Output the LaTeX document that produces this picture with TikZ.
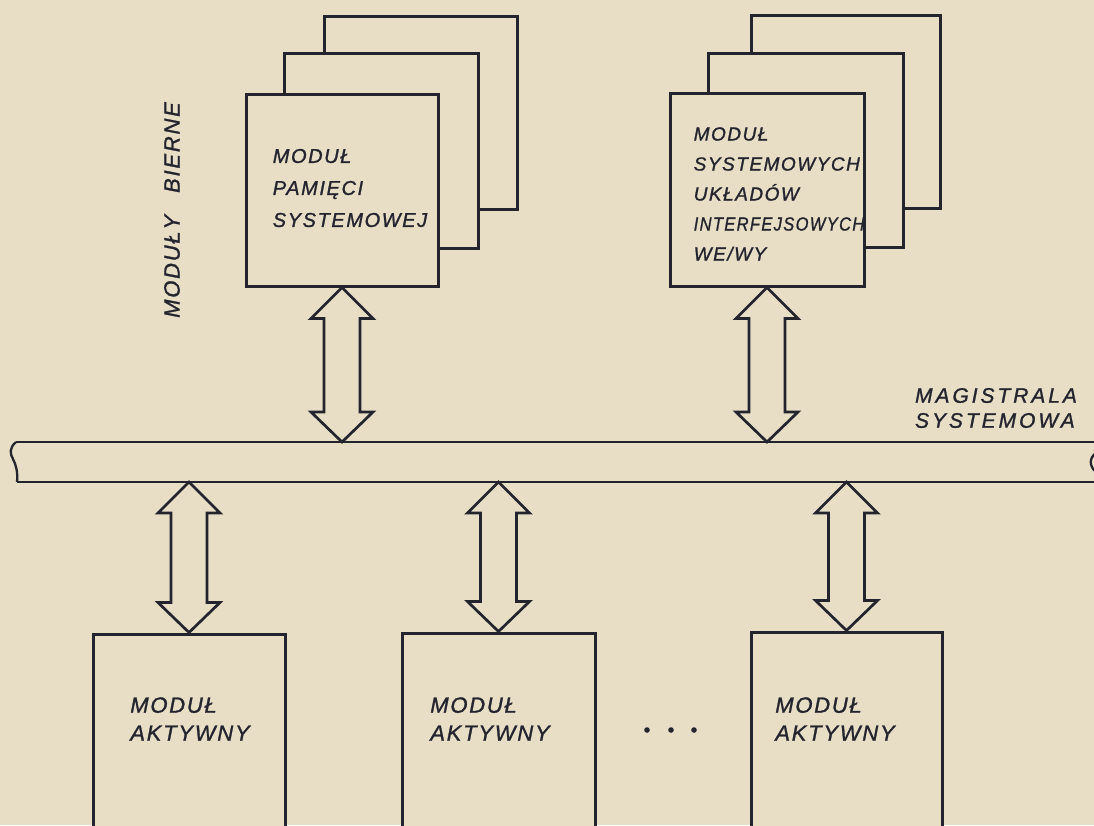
\documentclass[tikz,border=0pt]{standalone}
\usepackage{fontspec}
\setmainfont{Liberation Sans}
\newfontfamily\hand{Liberation Sans}[LetterSpace=8, FakeBold=1.2]
\newfontfamily\handwide{Liberation Sans}[LetterSpace=14, FakeBold=1.2]
\usetikzlibrary{calc}
\definecolor{paper}{RGB}{232,222,198}
\definecolor{ink}{RGB}{36,36,46}
\tikzset{
  modbox/.style={draw=ink, line width=3pt, fill=paper, rectangle, inner sep=0pt},
  lbl/.style={align=left, inner sep=0pt, text=ink, font=\hand\itshape\fontsize{#1}{#1}\selectfont},
  busline/.style={draw=ink, line width=2.6pt},
  bigarrow/.style={draw=ink, line width=2.7pt, line join=miter, fill=paper}
}
\newcommand{\busarrow}[2]{%
  \path[bigarrow] let \p1=(#1), \p2=(#2) in
    (\x1,\y1) -- (\x1-31pt,\y1-31pt) -- (\x1-18pt,\y1-31pt) -- (\x1-18pt,\y2+30pt)
    -- (\x1-31pt,\y2+30pt) -- (\x1,\y2) -- (\x1+31pt,\y2+30pt) -- (\x1+18pt,\y2+30pt)
    -- (\x1+18pt,\y1-31pt) -- (\x1+31pt,\y1-31pt) -- cycle;}
\begin{document}
\begin{tikzpicture}[x=1pt,y=-1pt]
\useasboundingbox (0,0) rectangle (1094,825);
\fill[paper] (0,0) rectangle (1094,825);
\clip (0,0) rectangle (1094,825);

% passive module stacks
\node[modbox, minimum width=193pt, minimum height=193pt] (memC) at (420.5,112.5) {};
\node[modbox, minimum width=194pt, minimum height=195pt] (memB) at (381,150.5) {};
\node[modbox, minimum width=192pt, minimum height=192pt] (mem) at (342,190) {};
\node[lbl=20] (memt) at (350,188) {MODUŁ\\[12pt]PAMIĘCI\\[12pt]SYSTEMOWEJ};

\node[modbox, minimum width=189pt, minimum height=193pt] (ioC) at (845.5,111.5) {};
\node[modbox, minimum width=195pt, minimum height=194pt] (ioB) at (805.5,150) {};
\node[modbox, minimum width=194pt, minimum height=193pt] (io) at (767,189.5) {};
\node[lbl=19] (iot) at (779,194) {MODUŁ\\[11pt]SYSTEMOWYCH\\[11pt]UKŁADÓW\\[11pt]\scalebox{0.87}[1]{INTERFEJSOWYCH}\\[11pt]WE/WY};

\node[lbl=22, rotate=90] (bierne) at (172,210) {MODUŁY\hspace{22pt}BIERNE};

% system bus
\coordinate (busN) at (0,442);
\coordinate (busS) at (0,482);
\draw[busline] (16,442) -- (1094,442);
\draw[busline] (17,482) -- (1094,482);
\draw[ink, line width=2.3pt] (16,442) .. controls (9,448) and (10,454) .. (13,459)
  .. controls (16,465) and (18,472) .. (17,482);
\draw[ink, line width=2.3pt] (1096,453) .. controls (1089,458) and (1089,466) .. (1096,472);
\node[lbl=21, font=\handwide\itshape\fontsize{21}{25}\selectfont] (bust) at (996,408) {MAGISTRALA\\SYSTEMOWA};

% active modules
\node[modbox, minimum width=192pt, minimum height=226pt] (a1) at (189,747) {};
\node[modbox, minimum width=193pt, minimum height=226pt] (a2) at (498.5,746) {};
\node[modbox, minimum width=191pt, minimum height=226pt] (a3) at (846.5,745) {};
\node[lbl=22] (a1t) at (190,719) {MODUŁ\\[6pt]AKTYWNY};
\node[lbl=22] (a2t) at (490,719) {MODUŁ\\[6pt]AKTYWNY};
\node[lbl=22] (a3t) at (835,719) {MODUŁ\\[6pt]AKTYWNY};
\fill[ink] (647,730) circle (2.8) (671,730) circle (2.8) (694,730) circle (2.8);

% bus arrows
\busarrow{mem.south}{mem.south |- busN}
\busarrow{io.south}{io.south |- busN}
\busarrow{a1.north |- busS}{a1.north}
\busarrow{a2.north |- busS}{a2.north}
\busarrow{a3.north |- busS}{a3.north}
\end{tikzpicture}
\end{document}
